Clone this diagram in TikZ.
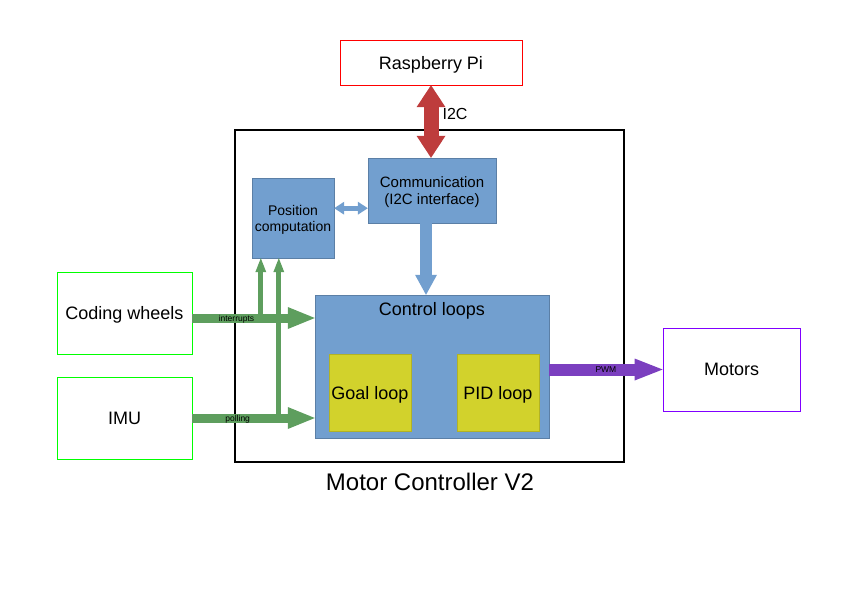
\documentclass[tikz,border=0pt]{standalone}
\usepackage{fontspec}
\setmainfont{Liberation Sans}
\usetikzlibrary{arrows.meta,positioning}

\definecolor{boxblue}{HTML}{729FCF}
\definecolor{loopyellow}{HTML}{D2D22C}
\definecolor{arrowgreen}{HTML}{5E9E5E}
\definecolor{arrowred}{HTML}{BE3C3C}
\definecolor{arrowpurple}{HTML}{7B3FBF}
\definecolor{linegreen}{HTML}{00FF00}
\definecolor{linepurple}{HTML}{8000FF}

\tikzset{
    every node/.style={text depth=0pt},
    block/.style={draw=boxblue!80!black, fill=boxblue, inner sep=0pt, align=center},
    loopbox/.style={draw=loopyellow!85!black, fill=loopyellow, minimum width=82pt, minimum height=77pt,
        inner sep=0pt, font=\fontsize{18}{20}\selectfont},
    sidebox/.style={draw, line width=0.8pt, minimum width=135pt, minimum height=82pt, inner sep=0pt,
        font=\fontsize{18}{20}\selectfont},
    arrowlabel/.style={font=\fontsize{8.5}{9}\selectfont, inner sep=0pt},
    garrow/.style={draw=arrowgreen, line width=9pt, -{Triangle[width=22pt,length=27pt,line width=0pt]}},
    gthin/.style={draw=arrowgreen, line width=5pt, -{Triangle[width=11pt,length=14pt,line width=0pt]}},
}

\begin{document}
\begin{tikzpicture}[x=1pt,y=-1pt]
    \useasboundingbox (0,0) rectangle (842,595);

    % Motor controller frame
    \node[draw, line width=1.6pt, minimum width=389pt, minimum height=332pt, inner sep=0pt] (mc) at (429.5,296) {};
    \node[font=\fontsize{24}{26}\selectfont] (mctitle) at (430,482) {Motor Controller V2};

    % Raspberry Pi
    \node[draw=red, minimum width=182pt, minimum height=45pt, inner sep=0pt,
        font=\fontsize{18}{20}\selectfont] (rpi) at (431,62.5) {Raspberry Pi};

    % Blocks inside the controller
    \node[block, minimum width=128pt, minimum height=65pt,
        font=\fontsize{15}{17}\selectfont] (comm) at (432,190.5) {Communication\\(I2C interface)};
    \node[block, minimum width=82pt, minimum height=80pt,
        font=\fontsize{14}{16}\selectfont] (pos) at (293,218) {Position\\computation};
    \node[block, minimum width=234pt, minimum height=143pt] (ctrl) at (432,366.5) {};
    \node[font=\fontsize{18}{20}\selectfont] (ctrltitle) at (432,309) {Control loops};
    \node[loopbox] (goal) at (370,392.5) {Goal loop};
    \node[loopbox] (pid) at (498,392.5) {PID loop};

    % Sensors and motors
    \node[sidebox, draw=linegreen] (cw) at (124.5,313) {Coding wheels};
    \node[sidebox, draw=linegreen] (imu) at (124.5,418) {IMU};
    \node[sidebox, draw=linepurple, minimum width=137pt, minimum height=83pt] (motors) at (731.5,369.5) {Motors};

    % I2C link
    \draw[draw=arrowred, line width=15pt,
        {Triangle[width=29pt,length=22pt,line width=0pt]}-{Triangle[width=29pt,length=22pt,line width=0pt]}]
        (rpi.south) -- (rpi.south |- comm.north);
    \node[font=\fontsize{16}{18}\selectfont] (i2c) at (455,114) {I2C};

    % Internal links
    \draw[draw=boxblue, line width=5pt,
        {Triangle[width=13pt,length=10pt,line width=0pt]}-{Triangle[width=13pt,length=10pt,line width=0pt]}]
        ([yshift=15pt]comm.south west -| pos.east) -- ([yshift=15pt]comm.south west);
    \draw[draw=boxblue, line width=12pt, -{Triangle[width=22pt,length=20pt,line width=0pt]}]
        ([xshift=-6pt]comm.south) -- ([xshift=-6pt]comm.south |- ctrl.north);

    % Sensor inputs
    \coordinate (irow) at ([yshift=-5pt]cw.east);
    \draw[garrow] (irow) -- (irow -| ctrl.west)
        node[arrowlabel, pos=0.36] (intlabel) {interrupts};
    \draw[garrow] (imu.east) -- (imu.east -| ctrl.west)
        node[arrowlabel, pos=0.37] (polllabel) {polling};
    \draw[gthin] ([xshift=9pt]pos.south west |- irow) -- ([xshift=9pt]pos.south west);
    \draw[gthin] ([xshift=27pt]pos.south west |- imu.east) -- ([xshift=27pt]pos.south west);

    % Motor output
    \draw[draw=arrowpurple, line width=12pt, -{Triangle[width=22pt,length=28pt,line width=0pt]}]
        (motors.west -| ctrl.east) -- (motors.west)
        node[arrowlabel, midway] (pwmlabel) {PWM};
\end{tikzpicture}
\end{document}
